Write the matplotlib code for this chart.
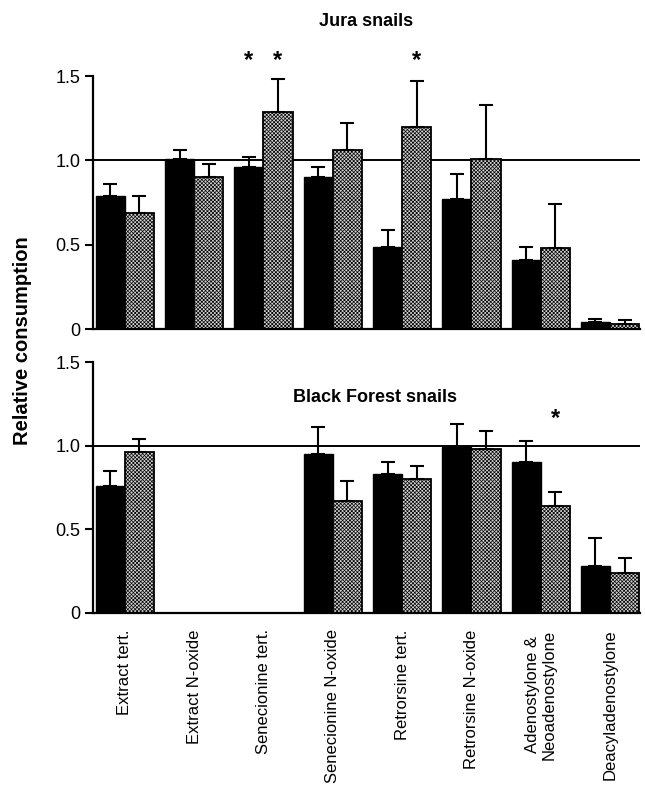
import numpy as np
import matplotlib
matplotlib.use("Agg")
import matplotlib.pyplot as plt

plt.rcParams['font.family'] = ['Liberation Sans', 'DejaVu Sans']
plt.rcParams['hatch.color'] = '#6a6a6a'
plt.rcParams['hatch.linewidth'] = 0.5

categories = ["Extract tert.", "Extract N-oxide", "Senecionine tert.",
              "Senecionine N-oxide", "Retrorsine tert.", "Retrorsine N-oxide",
              "Adenostylone &\nNeoadenostylone", "Deacyladenostylone"]

# Jura snails
jura_black = [0.79, 1.01, 0.96, 0.90, 0.49, 0.77, 0.41, 0.04]
jura_black_top = [0.86, 1.06, 1.02, 0.96, 0.59, 0.92, 0.49, 0.06]
jura_grey = [0.69, 0.90, 1.29, 1.06, 1.20, 1.01, 0.48, 0.03]
jura_grey_top = [0.79, 0.98, 1.48, 1.22, 1.47, 1.33, 0.74, 0.055]

# Black Forest snails (no data for Extract N-oxide, Senecionine tert.)
bf_black = [0.76, np.nan, np.nan, 0.95, 0.83, 0.99, 0.90, 0.28]
bf_black_top = [0.85, np.nan, np.nan, 1.11, 0.90, 1.13, 1.03, 0.45]
bf_grey = [0.96, np.nan, np.nan, 0.67, 0.80, 0.98, 0.64, 0.24]
bf_grey_top = [1.04, np.nan, np.nan, 0.79, 0.88, 1.09, 0.72, 0.33]

# significance marks: (group index, bar side: 0 black / 1 grey)
jura_stars = [(2, 0), (2, 1), (4, 1)]
bf_stars = [(6, 1)]

fig = plt.figure(figsize=(6.45, 8.01), dpi=100)
ax1 = fig.add_axes([0.144, 0.589, 0.848, 0.316])
ax2 = fig.add_axes([0.144, 0.235, 0.848, 0.313])

x = np.arange(len(categories))
w = 0.42


def draw_panel(ax, black, black_top, grey, grey_top, stars, star_y):
    black = np.array(black)
    grey = np.array(grey)
    ax.axhline(1.0, color='black', lw=1.4, zorder=1)
    ax.bar(x - w / 2, black, w, color='black', edgecolor='black', lw=1, zorder=2)
    ax.bar(x + w / 2, grey, w, color='#d4d4d4', edgecolor='black', lw=1.3,
           hatch='xxxxxxxxx', zorder=2)
    eb = np.array(black_top) - black
    eg = np.array(grey_top) - grey
    ax.errorbar(x - w / 2, black, yerr=[np.zeros_like(eb), eb], fmt='none',
                ecolor='black', elinewidth=1.5, capsize=5, capthick=1.5, zorder=3)
    ax.errorbar(x + w / 2, grey, yerr=[np.zeros_like(eg), eg], fmt='none',
                ecolor='black', elinewidth=1.5, capsize=5, capthick=1.5, zorder=3)
    for g, side in stars:
        xs = x[g] - w / 2 + side * w
        ax.text(xs, star_y, '*', ha='center', va='center', fontsize=17,
                fontweight='bold', clip_on=False)
    ax.set_xlim(-0.46, 7.43)
    ax.set_ylim(0, 1.5)
    ax.set_yticks([0, 0.5, 1.0, 1.5])
    ax.set_yticklabels(['0', '0.5', '1.0', '1.5'], fontsize=13)
    ax.tick_params(axis='y', direction='out', length=6, width=1.5, pad=3)
    ax.set_xticks(x)
    ax.tick_params(axis='x', length=0)
    for s in ['top', 'right']:
        ax.spines[s].set_visible(False)
    ax.spines['left'].set_linewidth(1.6)
    ax.spines['bottom'].set_linewidth(1.6)


draw_panel(ax1, jura_black, jura_black_top, jura_grey, jura_grey_top, jura_stars, 1.59)
ax1.set_xticklabels([])
ax1.set_title('Jura snails', fontsize=13, fontweight='bold', pad=36, x=0.5)

draw_panel(ax2, bf_black, bf_black_top, bf_grey, bf_grey_top, bf_stars, 1.16)
ax2.set_xticklabels(categories, rotation=90, fontsize=12, va='top', ha='center',
                    linespacing=1.1)
ax2.tick_params(axis='x', pad=12)
ax2.text(0.515, 0.86, 'Black Forest snails', transform=ax2.transAxes,
         ha='center', va='center', fontsize=13, fontweight='bold')

fig.text(0.035, 0.575, 'Relative consumption', rotation=90, ha='center',
         va='center', fontsize=14.5, fontweight='bold')

fig.savefig('out.png', dpi=100)
